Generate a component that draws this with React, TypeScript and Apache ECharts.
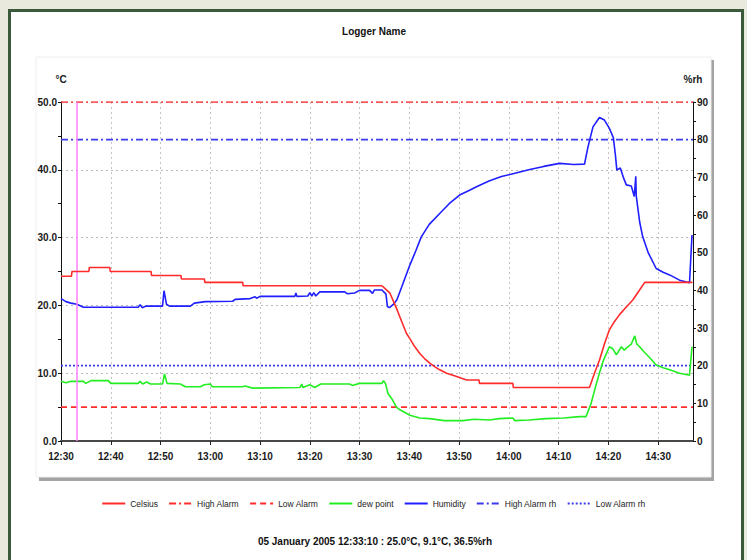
import React, { useEffect, useRef } from "react";
import * as echarts from "echarts";

// time in minutes after 12:30
const startHour = 12;
const startMinute = 30;
const axisMaxMinutes = 127;
const cursorMinutes = 3 + 10 / 60; // 12:33:10

const celsiusT = [0, 2.1, 2.2, 5.6, 5.7, 9.8, 9.9, 18.1, 18.2, 24.1, 24.2, 28.8, 28.9, 36.5, 36.6, 64.5, 65.4, 66.1, 67.4, 68.1, 69.4, 70.1, 71.0, 72.1, 73.0, 74.1, 75.0, 76.1, 77.5, 79.5, 81.5, 84.0, 84.1, 90.8, 90.9, 106.2, 107.2, 108.2, 109.2, 110.2, 111.2, 112.2, 113.5, 114.9, 116.2, 117.3, 126.9];
const celsiusV = [24.3, 24.3, 25.0, 25.0, 25.6, 25.6, 25.0, 25.0, 24.4, 24.4, 23.9, 23.9, 23.4, 23.4, 22.9, 22.9, 22.3, 21.8, 19.6, 18.3, 15.9, 15.1, 14.0, 12.9, 12.2, 11.5, 11.0, 10.5, 10.0, 9.5, 9.0, 9.0, 8.5, 8.5, 7.9, 7.9, 10.0, 11.9, 14.3, 16.4, 17.6, 18.6, 19.7, 20.8, 22.2, 23.4, 23.4];

const dewT = [0, 1.0, 2.0, 4.5, 5.0, 6.0, 9.5, 10.0, 15.5, 15.9, 16.4, 17.2, 18.0, 20.4, 20.8, 21.3, 24.0, 25.0, 28.0, 28.8, 30.0, 30.4, 36.5, 37.0, 38.5, 48.0, 48.4, 48.6, 50.0, 51.0, 52.2, 58.0, 58.5, 60.0, 64.5, 64.8, 65.2, 65.7, 66.5, 67.4, 68.1, 69.4, 70.1, 72.1, 74.1, 77.0, 80.8, 83.0, 86.1, 88.0, 90.8, 91.2, 94.0, 97.5, 101.0, 104.2, 105.5, 106.5, 107.6, 108.3, 109.0, 110.2, 110.9, 111.6, 112.6, 113.2, 113.9, 114.6, 115.3, 115.7, 116.4, 117.1, 118.4, 119.6, 121.0, 122.3, 124.3, 126.3, 126.8];
const dewV = [8.8, 8.6, 8.8, 8.8, 8.5, 8.9, 8.9, 8.5, 8.5, 8.8, 8.4, 8.7, 8.4, 8.4, 9.9, 8.5, 8.4, 8.0, 8.0, 8.3, 8.4, 8.0, 8.0, 8.1, 7.8, 7.9, 8.4, 7.9, 8.3, 7.9, 8.4, 8.4, 8.2, 8.5, 8.5, 8.9, 8.5, 7.0, 6.2, 5.0, 4.6, 4.1, 3.8, 3.4, 3.3, 3.0, 3.0, 3.2, 3.1, 3.3, 3.4, 3.0, 3.1, 3.3, 3.4, 3.6, 3.6, 5.5, 8.5, 10.3, 11.9, 13.9, 13.6, 12.7, 13.9, 13.4, 13.9, 14.3, 15.5, 14.3, 13.8, 13.2, 12.2, 11.2, 10.8, 10.5, 10.0, 9.7, 13.9];

const humT = [0, 1.0, 2.0, 3.2, 4.5, 15.5, 15.9, 16.3, 17.0, 20.4, 20.7, 21.2, 21.8, 26.0, 26.8, 29.0, 34.5, 35.0, 38.0, 39.0, 39.3, 40.0, 47.0, 47.2, 47.4, 49.6, 50.0, 50.4, 50.8, 51.2, 52.0, 57.0, 57.5, 59.0, 60.0, 62.0, 62.6, 63.0, 64.5, 65.3, 65.6, 66.0, 66.9, 67.5, 68.5, 70.1, 71.3, 72.4, 74.0, 76.1, 78.0, 80.1, 82.0, 83.5, 86.0, 88.5, 91.0, 94.2, 97.0, 100.2, 103.0, 105.2, 105.9, 106.9, 108.2, 109.2, 110.2, 111.0, 111.4, 111.7, 112.4, 113.0, 113.6, 114.6, 115.2, 115.5, 115.6, 116.3, 116.9, 118.0, 119.6, 121.0, 122.3, 124.3, 126.3, 126.8];
const humV = [37.8, 37.0, 36.6, 36.3, 35.5, 35.5, 36.2, 35.4, 35.8, 35.8, 39.9, 36.3, 35.8, 35.8, 36.6, 37.0, 37.1, 37.6, 37.8, 38.3, 37.9, 38.4, 38.4, 39.3, 38.4, 38.5, 39.4, 38.5, 39.4, 38.5, 39.6, 39.6, 39.1, 39.3, 40.0, 40.0, 39.2, 40.1, 40.1, 39.0, 35.7, 35.4, 36.4, 37.5, 41.0, 46.7, 50.5, 54.2, 57.5, 60.4, 63.0, 65.3, 66.5, 67.5, 69.0, 70.2, 71.0, 72.1, 72.9, 73.7, 73.4, 73.5, 78.1, 83.4, 85.9, 85.2, 83.0, 80.5, 76.0, 71.9, 72.5, 70.0, 68.0, 67.7, 64.9, 70.3, 65.0, 58.0, 54.2, 50.0, 45.8, 44.8, 44.1, 42.7, 42.0, 54.7];

const highAlarmC = 50;
const lowAlarmC = 5;
const highAlarmRh = 80;
const lowAlarmRh = 20;

const titleText = "Logger Name";
const footerText = "05 January 2005 12:33:10 : 25.0°C, 9.1°C, 36.5%rh";
const legendNames = ["Celsius", "High Alarm", "Low Alarm", "dew point", "Humidity", "High Alarm rh", "Low Alarm rh"];

const FONT = "'Liberation Sans', Arial, sans-serif";

const pair = (t: number[], v: number[]) => t.map((x, i) => [x, v[i]]);
const flat = (v: number) => [[0, v], [axisMaxMinutes, v]];

function fmtTime(m: number) {
  const total = startHour * 60 + startMinute + Math.round(m);
  const h = Math.floor(total / 60);
  const mm = total % 60;
  return `${h}:${mm < 10 ? "0" : ""}${mm}`;
}

export default function App() {
  const ref = useRef<HTMLDivElement>(null);
  useEffect(() => {
    if (!ref.current) return;
    const chart = echarts.init(ref.current, undefined, { renderer: "svg" });
    const red = "#ff2b2b";
    const blue = "#1f1fff";
    const green = "#22ee22";
    const axisText = { color: "#1a1a1a", fontFamily: FONT, fontSize: 10, fontWeight: "bold" as const };
    chart.setOption({
      animation: false,
      backgroundColor: "#e9e9dd",
      textStyle: { fontFamily: FONT },
      graphic: [
        { type: "rect", shape: { x: 9.5, y: 10.5, width: 733, height: 600 }, style: { fill: "#ffffff", stroke: "#3b5a3b", lineWidth: 3 }, z: -10 },
        { type: "rect", shape: { x: 39, y: 60, width: 675, height: 421 }, style: { fill: "#a3a3a3" }, z: -9 },
        { type: "rect", shape: { x: 36, y: 57, width: 675, height: 420 }, style: { fill: "#ffffff", stroke: "#eeeeee", lineWidth: 1 }, z: -8 },
        { type: "text", x: 374, y: 31, style: { text: titleText, fill: "#111", font: `bold 10px ${FONT}`, textAlign: "center", textVerticalAlign: "middle" } },
        { type: "text", x: 375, y: 541, style: { text: footerText, fill: "#111", font: `bold 10px ${FONT}`, textAlign: "center", textVerticalAlign: "middle" } },
      ],
      legend: {
        data: legendNames,
        left: "center",
        top: 494,
        itemWidth: 23,
        itemHeight: 10,
        itemGap: 10,
        itemStyle: { color: "rgba(0,0,0,0)", borderWidth: 0, borderColor: "rgba(0,0,0,0)" },
        textStyle: { fontFamily: FONT, fontSize: 8.5, color: "#222" },
      },
      grid: { left: 61, right: 54, top: 102, bottom: 119 },
      xAxis: {
        type: "value",
        min: 0,
        max: axisMaxMinutes,
        interval: 10,
        axisLine: { lineStyle: { color: "#484848", width: 2 } },
        axisTick: { show: true, length: 4, lineStyle: { color: "#222" } },
        axisLabel: { ...axisText, margin: 10, showMaxLabel: false, formatter: (v: number) => fmtTime(v) },
        splitLine: { show: true, lineStyle: { type: [2, 3], color: "#c4c4c4" } },
      },
      yAxis: [
        {
          type: "value",
          min: 0,
          max: 50,
          interval: 10,
          name: "°C",
          nameLocation: "end",
          nameGap: 18,
          nameTextStyle: { ...axisText, align: "center" },
          axisLine: { show: true, lineStyle: { color: "#111", width: 1 } },
          axisTick: { show: true, length: 3, lineStyle: { color: "#111" } },
          minorTick: { show: true, splitNumber: 2, length: 3, lineStyle: { color: "#111" } },
          axisLabel: { ...axisText, margin: 4, formatter: (v: number) => v.toFixed(1) },
          splitLine: { show: true, lineStyle: { type: [2, 3], color: "#b8b8b8" } },
        },
        {
          type: "value",
          min: 0,
          max: 90,
          interval: 10,
          position: "right",
          name: "%rh",
          nameLocation: "end",
          nameGap: 18,
          nameTextStyle: { ...axisText, align: "center" },
          axisLine: { show: true, lineStyle: { color: "#111", width: 1 } },
          axisTick: { show: true, length: 3, inside: false, lineStyle: { color: "#111" } },
          minorTick: { show: true, splitNumber: 2, length: 3, lineStyle: { color: "#111" } },
          axisLabel: { ...axisText, margin: 4 },
          splitLine: { show: false },
        },
      ],
      series: [
        {
          name: "Celsius", type: "line", yAxisIndex: 0, data: pair(celsiusT, celsiusV), symbol: "none",
          lineStyle: { color: red, width: 1.6 }, itemStyle: { color: red }, z: 5,
          markLine: {
            silent: true, symbol: "none", label: { show: false },
            lineStyle: { color: "#ff80ff", type: "solid", width: 1.5 },
            data: [{ xAxis: cursorMinutes }],
          },
        },
        { name: "High Alarm", type: "line", yAxisIndex: 0, data: flat(highAlarmC), symbol: "none", lineStyle: { color: red, width: 1.6, type: [7, 3, 2, 3] }, itemStyle: { color: red } },
        { name: "Low Alarm", type: "line", yAxisIndex: 0, data: flat(lowAlarmC), symbol: "none", lineStyle: { color: red, width: 1.6, type: [6, 4] }, itemStyle: { color: red } },
        { name: "dew point", type: "line", yAxisIndex: 0, data: pair(dewT, dewV), symbol: "none", lineStyle: { color: green, width: 1.6 }, itemStyle: { color: green }, z: 4 },
        { name: "Humidity", type: "line", yAxisIndex: 1, data: pair(humT, humV), symbol: "none", lineStyle: { color: blue, width: 1.6 }, itemStyle: { color: blue }, z: 4 },
        { name: "High Alarm rh", type: "line", yAxisIndex: 1, data: flat(highAlarmRh), symbol: "none", lineStyle: { color: "#3a3aee", width: 1.6, type: [7, 3, 2, 3] }, itemStyle: { color: "#3a3aee" } },
        { name: "Low Alarm rh", type: "line", yAxisIndex: 1, data: flat(lowAlarmRh), symbol: "none", lineStyle: { color: "#3a3aee", width: 1.8, type: [2, 2] }, itemStyle: { color: "#3a3aee" } },
      ],
    });
    return () => chart.dispose();
  }, []);
  return (
    <div style={{ position: "fixed", left: 0, top: 0, width: 747, height: 560, background: "#e9e9dd" }}>
      <div ref={ref} style={{ width: 747, height: 560 }} />
    </div>
  );
}
